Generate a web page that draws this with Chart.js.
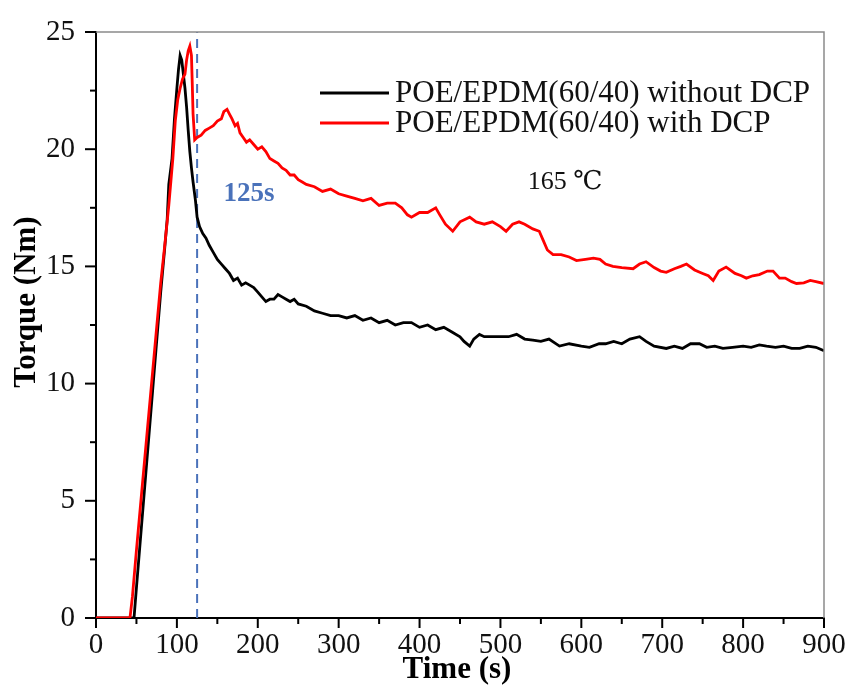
<!DOCTYPE html>
<html>
<head>
<meta charset="utf-8">
<script src="https://cdn.jsdelivr.net/npm/chart.js@4.4.1/dist/chart.umd.min.js"></script>
<style>
html,body{margin:0;padding:0;background:#fff;}
#wrap{width:849px;height:689px;position:relative;}
</style>
</head>
<body>
<div id="wrap"><canvas id="c" width="849" height="689"></canvas></div>
<script>
// ---- data ----
const blackTime = [0,45,47,50,55,60,65,70,75,80,
  85,88,90,94,97,100,102,104,106,108,
  110,112,114,116,118,120,123,125,128,132,
  136,140,145,150,155,160,165,170,175,180,
  185,190,195,200,205,210,215,220,225,230,
  235,240,245,250,260,270,280,290,300,310,
  320,330,340,350,360,370,380,390,400,410,
  420,430,440,450,455,462,467,474,480,490,
  500,510,520,530,540,550,560,573,585,600,
  610,622,630,640,650,660,672,680,690,705,
  715,725,735,746,755,765,775,787,800,810,
  820,829,840,850,860,870,880,890,900];
const blackTorque = [0,0,0,1.3,3.4,5.5,7.6,9.7,11.8,13.9,
  15.8,17.0,18.5,19.6,21.3,22.6,23.4,24.0,23.8,23.2,
  22.6,21.8,20.8,19.9,19.2,18.6,17.8,17.1,16.7,16.4,
  16.2,15.9,15.6,15.3,15.1,14.9,14.7,14.4,14.5,14.2,
  14.3,14.2,14.1,13.9,13.7,13.5,13.6,13.6,13.8,13.7,
  13.6,13.5,13.6,13.4,13.3,13.1,13.0,12.9,12.9,12.8,
  12.9,12.7,12.8,12.6,12.7,12.5,12.6,12.6,12.4,12.5,
  12.3,12.4,12.2,12.0,11.8,11.6,11.9,12.1,12.0,12.0,
  12.0,12.0,12.1,11.9,11.85,11.8,11.9,11.6,11.7,11.6,
  11.55,11.7,11.7,11.8,11.7,11.9,12.0,11.8,11.6,11.5,
  11.6,11.5,11.7,11.7,11.55,11.6,11.5,11.55,11.6,11.55,
  11.65,11.6,11.55,11.6,11.5,11.5,11.6,11.55,11.4];

const redTime = [0,42,45,50,55,60,65,70,75,80,
  85,90,95,98,101,104,107,110,112,114,
  116,118,119,120,122,125,130,135,140,145,
  150,155,158,162,165,168,172,175,178,182,
  186,190,195,200,205,210,215,220,225,230,
  235,240,245,250,255,260,270,280,290,300,
  310,320,330,340,350,360,370,378,385,390,
  400,410,420,425,432,441,450,462,470,480,
  490,500,507,515,523,530,540,548,553,558,
  565,575,585,594,605,615,623,630,639,650,
  664,672,680,690,698,705,715,723,730,740,
  750,757,763,770,779,790,798,804,812,820,
  830,837,845,852,860,866,875,883,890,900];
const redTorque = [0,0,0.9,2.9,4.8,6.7,8.6,10.5,12.4,14.3,
  15.9,17.6,19.6,21.2,22.1,22.6,23.0,23.2,23.8,24.2,
  24.4,24.0,22.8,21.5,20.4,20.5,20.6,20.8,20.9,21.0,
  21.2,21.3,21.6,21.7,21.5,21.3,21.0,21.1,20.7,20.5,
  20.3,20.4,20.2,20.0,20.1,19.9,19.6,19.5,19.4,19.2,
  19.1,18.9,18.9,18.7,18.6,18.5,18.4,18.2,18.3,18.1,
  18.0,17.9,17.8,17.9,17.6,17.7,17.7,17.5,17.2,17.1,
  17.3,17.3,17.5,17.2,16.8,16.5,16.9,17.1,16.9,16.8,
  16.9,16.7,16.5,16.8,16.9,16.8,16.6,16.5,16.1,15.7,
  15.5,15.5,15.4,15.25,15.3,15.35,15.3,15.1,15.0,14.95,
  14.9,15.1,15.2,14.95,14.8,14.75,14.9,15.0,15.1,14.85,
  14.7,14.6,14.4,14.8,14.97,14.7,14.6,14.5,14.6,14.65,
  14.8,14.8,14.5,14.5,14.35,14.27,14.3,14.4,14.35,14.27];

const markerTime = [125, 125];
const markerTorque = [0, 25];

const xTicks = [0,100,200,300,400,500,600,700,800,900];
const yTicks = [0,5,10,15,20,25];

const seriesNames = ['POE/EPDM(60/40) without DCP', 'POE/EPDM(60/40) with DCP'];
const seriesColors = ['#000000', '#ff0000'];
const markerLabel = '125s';
const tempLabel = '165 \u2103';
const xTitle = 'Time (s)';
const yTitle = 'Torque (Nm)';

const toPoints = (t, v) => t.map((x, i) => ({x: x, y: v[i]}));

const SERIF = '"Liberation Serif", "DejaVu Serif", "Times New Roman", serif';
const BLUE = '#4a72ba';

const decor = {
  id: 'decor',
  afterDraw(chart) {
    const ctx = chart.ctx;
    const a = chart.chartArea;
    const xs = chart.scales.x, ys = chart.scales.y;
    ctx.save();
    // top and right frame
    ctx.strokeStyle = '#8a8a8a';
    ctx.lineWidth = 1.5;
    ctx.beginPath();
    ctx.moveTo(a.left, a.top); ctx.lineTo(a.right, a.top); ctx.lineTo(a.right, a.bottom);
    ctx.stroke();
    // ticks
    ctx.strokeStyle = '#000';
    ctx.lineWidth = 2;
    for (let v = xs.min; v <= xs.max + 0.01; v += 50) {
      const p = xs.getPixelForValue(v);
      const len = (v % 100 === 0) ? 10 : 6;
      ctx.beginPath(); ctx.moveTo(p, a.bottom); ctx.lineTo(p, a.bottom + len); ctx.stroke();
    }
    for (let v = ys.min; v <= ys.max + 0.01; v += 2.5) {
      const p = ys.getPixelForValue(v);
      const len = (v % 5 === 0) ? 11 : 6;
      ctx.beginPath(); ctx.moveTo(a.left, p); ctx.lineTo(a.left - len, p); ctx.stroke();
    }
    // tick labels
    ctx.fillStyle = '#111';
    ctx.font = '29px ' + SERIF;
    ctx.textBaseline = 'middle';
    ctx.textAlign = 'center';
    xTicks.forEach(v => ctx.fillText(String(v), xs.getPixelForValue(v), a.bottom + 27));
    ctx.textAlign = 'right';
    yTicks.forEach(v => ctx.fillText(String(v), a.left - 21, ys.getPixelForValue(v)));
    // legend
    ctx.lineWidth = 3;
    const ly = [93, 123];
    for (let i = 0; i < 2; i++) {
      ctx.strokeStyle = seriesColors[i];
      ctx.beginPath(); ctx.moveTo(320, ly[i]); ctx.lineTo(389, ly[i]); ctx.stroke();
      ctx.fillStyle = '#111';
      ctx.font = '31px ' + SERIF;
      ctx.textAlign = 'left';
      ctx.textBaseline = 'middle';
      ctx.fillText(seriesNames[i], 395, ly[i] + 1);
    }
    // annotations
    ctx.fillStyle = '#111';
    ctx.font = '26px ' + SERIF;
    ctx.textAlign = 'center';
    ctx.fillText(tempLabel, 565, 182);
    ctx.fillStyle = BLUE;
    ctx.font = 'bold 27px ' + SERIF;
    ctx.fillText(markerLabel, 249, 194);
    // axis titles
    ctx.fillStyle = '#000';
    ctx.font = 'bold 31px ' + SERIF;
    ctx.fillText(xTitle, 457, 670);
    ctx.translate(27, 302);
    ctx.rotate(-Math.PI / 2);
    ctx.fillText(yTitle, 0, 0);
    ctx.restore();
  }
};

new Chart(document.getElementById('c'), {
  type: 'line',
  data: {
    datasets: [
      {label: seriesNames[1], data: toPoints(redTime, redTorque), borderColor: seriesColors[1], borderWidth: 2.8, pointRadius: 0, tension: 0, fill: false},
      {label: seriesNames[0], data: toPoints(blackTime, blackTorque), borderColor: seriesColors[0], borderWidth: 2.8, pointRadius: 0, tension: 0, fill: false},
      {label: markerLabel, data: toPoints(markerTime, markerTorque), borderColor: BLUE, borderWidth: 2, borderDash: [9, 6], pointRadius: 0, fill: false}
    ]
  },
  options: {
    responsive: false,
    animation: false,
    devicePixelRatio: 1,
    layout: {padding: {left: 0, right: 25, top: 32, bottom: 0}},
    plugins: {legend: {display: false}, tooltip: {enabled: false}},
    scales: {
      x: {
        type: 'linear', min: 0, max: 900,
        afterBuildTicks: s => { s.ticks = xTicks.map(v => ({value: v})); },
        afterFit: s => { s.height = 71; },
        grid: {drawOnChartArea: false, drawTicks: false},
        border: {color: '#000', width: 2},
        ticks: {display: false}
      },
      y: {
        type: 'linear', min: 0, max: 25,
        afterBuildTicks: s => { s.ticks = yTicks.map(v => ({value: v})); },
        afterFit: s => { s.width = 96; },
        grid: {drawOnChartArea: false, drawTicks: false},
        border: {color: '#000', width: 2},
        ticks: {display: false}
      }
    }
  },
  plugins: [decor]
});
</script>
</body>
</html>
